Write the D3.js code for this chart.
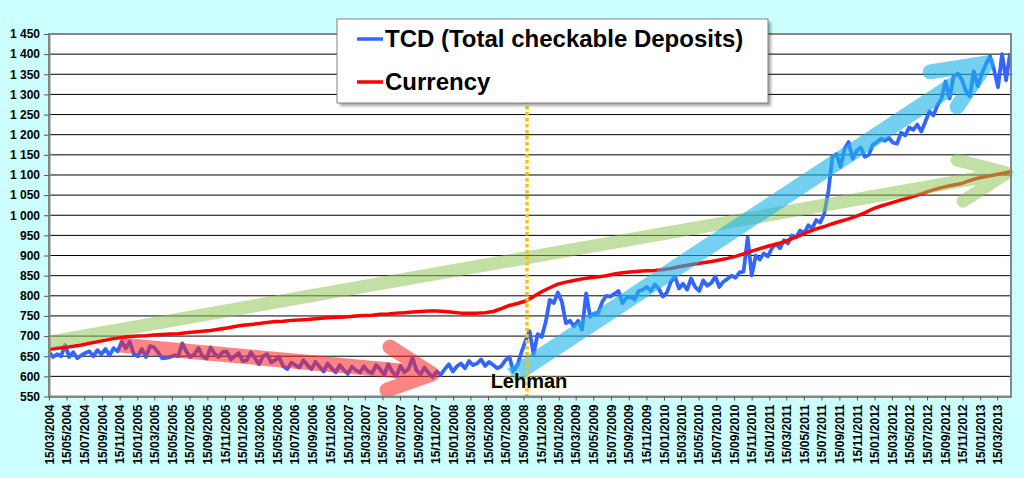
<!DOCTYPE html>
<html>
<head>
<meta charset="utf-8">
<script src="https://cdn.jsdelivr.net/npm/d3@7"></script>
<style>
  body { margin: 0; background: #ccffff; }
  svg { display: block; font-family: "Liberation Sans", Arial, sans-serif; }
</style>
</head>
<body>
<div id="chart"></div>
<script>
// weekly series, read every 2nd week (TCD) / every 4th week (Currency) from the picture
const startDate = "2004-03-15";
const endDate = "2013-05-02";
const tcdStepDays = 14;
const tcdValues = [
  660,648,655,650,678,648,660,645,652,658,
  662,650,665,655,668,652,670,662,686,670,
  686,655,650,668,648,675,672,660,645,646,
  648,652,650,682,662,648,655,670,650,644,
  672,656,648,660,662,642,650,658,638,640,
  660,645,630,650,655,635,640,648,625,618,
  634,628,622,640,628,618,636,624,612,632,
  620,610,628,616,606,624,615,610,625,612,
  608,628,618,604,630,612,600,626,610,618,
  646,615,605,622,608,598,612,604,618,630,
  612,625,632,620,638,628,632,642,626,636,
  628,620,625,640,648,612,628,660,688,712,
  655,705,698,735,790,782,808,785,732,738,
  724,738,716,806,748,756,758,785,800,798,
  805,812,782,795,798,790,812,815,822,812,
  828,818,798,808,835,848,818,830,815,843,
  822,812,838,825,832,848,822,835,842,850,
  845,858,860,945,850,900,890,905,898,918,
  928,918,938,930,950,945,962,955,975,968,
  988,982,1005,1060,1145,1152,1120,1165,1182,1140,
  1160,1168,1145,1150,1175,1182,1190,1185,1192,1180,
  1178,1205,1198,1218,1212,1225,1208,1232,1258,1248,
  1273,1290,1332,1290,1345,1352,1338,1310,1295,1357,
  1320,1352,1375,1395,1362,1318,1400,1335,1403
];
const currencyStepDays = 28;
const currencyValues = [
  667,670,672,675,678,682,686,690,694,697,
  699,700,701,703,704,705,706,708,710,712,
  714,717,720,724,727,729,731,734,736,737,
  739,740,741,743,745,746,747,748,750,751,
  752,754,755,757,758,760,761,762,762,761,
  759,757,757,757,758,761,768,776,781,787,
  798,810,820,829,834,838,842,845,847,850,
  854,857,859,861,862,863,865,868,872,876,
  879,882,885,889,893,898,904,911,917,923,
  928,934,942,950,959,966,972,979,985,991,
  998,1006,1016,1023,1029,1035,1041,1047,1053,1060,
  1066,1071,1075,1079,1086,1092,1096,1100,1104,1108
];
const seriesNames = ["TCD (Total checkable Deposits)", "Currency"];
const yTickValues = [550,600,650,700,750,800,850,900,950,1000,1050,1100,1150,1200,1250,1300,1350,1400,1450];
const xTickFirst = "2004-03-15";
const xTickLast = "2013-03-15";
const lehmanDate = "2008-09-27";
const lehmanLabel = "Lehman";

// hand-drawn trend arrows (date, value)
const greenShaft = [["2004-03-15", 685], ["2013-04-17", 1105]];
const greenHead = [["2012-10-27", 1137], ["2013-04-17", 1105], ["2012-11-17", 1035]];
const pinkShaft = [["2004-11-16", 678], ["2007-11-03", 606]];
const pinkHead = [["2007-06-10", 673], ["2007-11-03", 606], ["2007-05-31", 566]];
const blueShaft = [["2008-08-06", 601], ["2013-02-08", 1378]];
const blueHead = [["2012-07-26", 1356], ["2013-02-08", 1378], ["2012-10-27", 1269]];

const width = 1024, height = 478;
const parse = d3.utcParse("%Y-%m-%d");
const start = parse(startDate);

const tcd = tcdValues.map((v, i) => ({date: d3.utcDay.offset(start, i * tcdStepDays), v}));
const currency = currencyValues.map((v, i) => ({date: d3.utcDay.offset(start, i * currencyStepDays), v}));

const svg = d3.select("#chart").append("svg")
  .attr("width", width)
  .attr("height", height);

const defs = svg.append("defs");
const shadow = defs.append("filter").attr("id", "shadow")
  .attr("x", "-5%").attr("y", "-10%").attr("width", "115%").attr("height", "130%");
shadow.append("feGaussianBlur").attr("stdDeviation", 1.5);

const x = d3.scaleUtc()
  .domain([start, parse(endDate)])
  .range([49, 1011]);
const y = d3.scaleLinear()
  .domain([550, 1450])
  .range([396.5, 34]);

// plot area
svg.append("rect")
  .attr("x", x.range()[0]).attr("y", y(1450))
  .attr("width", x.range()[1] - x.range()[0])
  .attr("height", y(550) - y(1450))
  .attr("fill", "#fff");

svg.append("g").selectAll("line")
  .data(yTickValues.slice(1, -1))
  .enter().append("line")
  .attr("x1", x.range()[0]).attr("x2", x.range()[1])
  .attr("y1", d => y(d)).attr("y2", d => y(d))
  .attr("stroke", "#000").attr("stroke-width", 1);

// series
const line = d3.line().x(d => x(d.date)).y(d => y(d.v));
svg.append("path").datum(tcd)
  .attr("d", line).attr("fill", "none")
  .attr("stroke", "#3366ff").attr("stroke-width", 3.8)
  .attr("stroke-linejoin", "round");
svg.append("path").datum(currency)
  .attr("d", line).attr("fill", "none")
  .attr("stroke", "#ff0000").attr("stroke-width", 3.5)
  .attr("stroke-linejoin", "round");

// arrows
const pt = p => [x(parse(p[0])), y(p[1])];
function arrow(shaft, head, color, opacity, shaftW, headW) {
  const g = svg.append("g").attr("opacity", opacity);
  g.append("path")
    .attr("d", d3.line()(shaft.map(pt)))
    .attr("fill", "none").attr("stroke", color)
    .attr("stroke-width", shaftW).attr("stroke-linecap", "butt");
  g.append("path")
    .attr("d", d3.line()(head.map(pt)))
    .attr("fill", "none").attr("stroke", color)
    .attr("stroke-width", headW)
    .attr("stroke-linecap", "round").attr("stroke-linejoin", "round");
}
arrow(greenShaft, greenHead, "#92c75a", 0.55, 13, 13);
arrow(pinkShaft, pinkHead, "#ff2020", 0.55, 15, 15);
arrow(blueShaft, blueHead, "#1eb4ea", 0.62, 17, 15);

// Lehman marker
const lx = x(parse(lehmanDate));
svg.append("line")
  .attr("x1", lx).attr("x2", lx)
  .attr("y1", y(1450)).attr("y2", y(550))
  .attr("stroke", "#ffc000").attr("stroke-width", 3.5)
  .attr("stroke-dasharray", "3.5,2.5");

svg.append("text")
  .attr("x", lx + 2).attr("y", y(550) - 8.5)
  .attr("text-anchor", "middle")
  .style("font-size", "20px").style("font-weight", "bold")
  .attr("fill", "#000")
  .attr("stroke", "#ffff99").attr("stroke-width", 3).attr("stroke-opacity", 0.35)
  .attr("paint-order", "stroke")
  .text(lehmanLabel);

// frame
svg.append("rect")
  .attr("x", x.range()[0]).attr("y", y(1450))
  .attr("width", x.range()[1] - x.range()[0])
  .attr("height", y(550) - y(1450))
  .attr("fill", "none").attr("stroke", "#868686").attr("stroke-width", 2);

// axes
const locale = d3.formatLocale({decimal: ",", thousands: " ", grouping: [3], currency: ["", ""]});
const yAxis = svg.append("g")
  .attr("transform", `translate(${x.range()[0]},0)`)
  .call(d3.axisLeft(y).tickValues(yTickValues).tickSize(5).tickSizeOuter(0)
    .tickPadding(4).tickFormat(locale.format(",d")));
yAxis.select(".domain").attr("stroke", "#868686").attr("stroke-width", 2);
yAxis.selectAll(".tick line").attr("stroke", "#555");
yAxis.selectAll("text")
  .style("font-size", "12px").style("font-weight", "bold")
  .style("font-family", "'Liberation Sans', Arial, sans-serif")
  .attr("fill", "#000");

const xTicks = d3.utcMonth.range(d3.utcMonth.floor(parse(xTickFirst)), d3.utcDay.offset(parse(xTickLast), 1), 2)
  .map(d => d3.utcDay.offset(d, 14));
const xAxis = svg.append("g")
  .attr("transform", `translate(0,${y(550)})`)
  .call(d3.axisBottom(x).tickValues(xTicks).tickSize(4).tickSizeOuter(0)
    .tickFormat(d3.utcFormat("%d/%m/%Y")));
xAxis.select(".domain").attr("stroke", "#868686").attr("stroke-width", 2);
xAxis.selectAll(".tick line").attr("stroke", "#555");
xAxis.selectAll("text")
  .attr("transform", "rotate(-90)")
  .attr("text-anchor", "end")
  .attr("x", -8).attr("y", 0).attr("dy", "0.35em")
  .style("font-size", "12px").style("font-weight", "bold")
  .style("font-family", "'Liberation Sans', Arial, sans-serif")
  .attr("fill", "#000");

// legend
const legend = svg.append("g").attr("transform", "translate(337,19)");
legend.append("rect")
  .attr("x", 3).attr("y", 3).attr("width", 431).attr("height", 84)
  .attr("fill", "#000").attr("opacity", 0.35).attr("filter", "url(#shadow)");
legend.append("rect")
  .attr("width", 431).attr("height", 84)
  .attr("fill", "#fff").attr("stroke", "#808080").attr("stroke-width", 1);
const legendColors = ["#3366ff", "#ff0000"];
const rows = legend.selectAll(".row")
  .data(seriesNames)
  .enter().append("g")
  .attr("transform", (d, i) => `translate(0,${20 + i * 43})`);
rows.append("line")
  .attr("x1", 20).attr("x2", 46)
  .attr("stroke", (d, i) => legendColors[i]).attr("stroke-width", 3.5);
rows.append("text")
  .attr("x", 48).attr("y", 8)
  .style("font-size", "24px").style("font-weight", "bold")
  .attr("fill", "#000")
  .text(d => d);
</script>
</body>
</html>
